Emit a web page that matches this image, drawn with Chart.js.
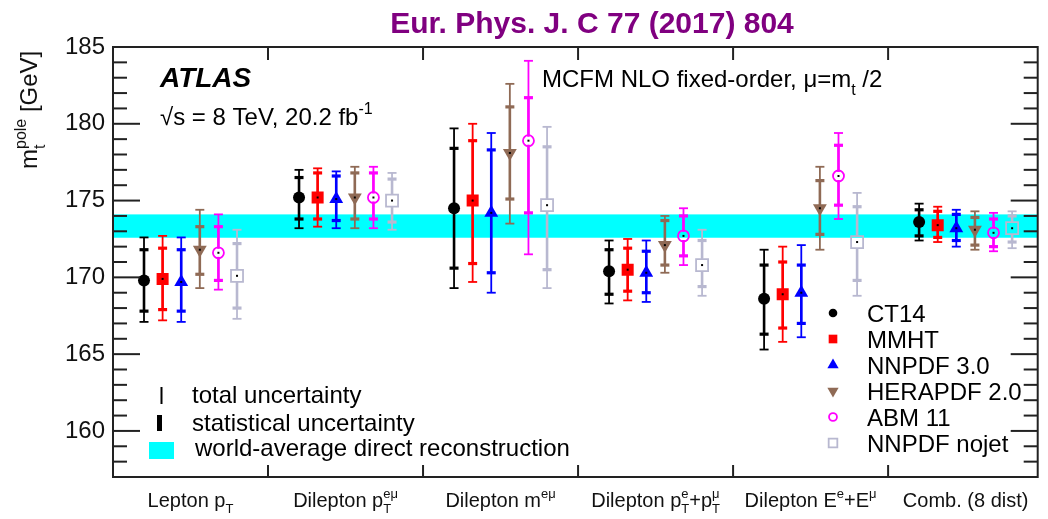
<!DOCTYPE html>
<html lang="en">
<head>
<meta charset="UTF-8">
<title>Top-quark pole mass per distribution and PDF set</title>
<script src="https://cdn.jsdelivr.net/npm/chart.js@4.4.1/dist/chart.umd.min.js"></script>
<style>
    body { margin: 0; background: #ffffff; }
    #wrap { width: 1048px; height: 519px; }
</style>
</head>
<body>
<div id="wrap"><canvas id="mtChart" width="1048" height="519"></canvas></div>
<script>
// --- DATA (GeV) ---
const categories = ['Lepton p_{T}', 'Dilepton p_{T}^{eμ}', 'Dilepton m^{eμ}',
                    'Dilepton p_{T}^{e}+p_{T}^{μ}', 'Dilepton E^{e}+E^{μ}', 'Comb. (8 dist)'];
const pdfNames = ['CT14', 'MMHT', 'NNPDF 3.0', 'HERAPDF 2.0', 'ABM 11', 'NNPDF nojet'];
const yTicks = [160, 165, 170, 175, 180, 185];

// central value, [low, high] of total uncertainty, [low, high] of statistical uncertainty
const ct14      = [169.8, 175.2, 174.5, 170.4, 168.6, 173.6];
const ct14Tot   = [[167.1, 172.6], [173.2, 177.0], [169.3, 179.7], [168.3, 172.4], [165.3, 171.8], [172.4, 174.8]];
const ct14Stat  = [[167.8, 171.8], [173.8, 176.5], [170.6, 178.4], [168.9, 171.8], [166.3, 170.8], [172.7, 174.4]];

const mmht      = [169.9, 175.2, 175.0, 170.5, 168.9, 173.4];
const mmhtTot   = [[167.2, 172.7], [173.3, 177.1], [169.7, 180.0], [168.5, 172.5], [165.8, 172.0], [172.3, 174.6]];
const mmhtStat  = [[167.9, 171.9], [173.8, 176.8], [170.9, 178.9], [169.1, 171.9], [166.7, 171.0], [172.6, 174.3]];

const nnpdf     = [169.7, 175.1, 174.2, 170.3, 169.0, 173.2];
const nnpdfTot  = [[167.1, 172.6], [173.2, 176.9], [169.0, 179.4], [168.4, 172.4], [166.1, 172.1], [172.0, 174.4]];
const nnpdfStat = [[167.8, 171.8], [173.7, 176.6], [170.3, 178.3], [169.0, 171.7], [167.0, 170.8], [172.4, 174.1]];

const hera      = [171.8, 175.2, 178.1, 172.1, 174.5, 173.1];
const heraTot   = [[169.3, 174.4], [173.2, 177.2], [173.5, 182.6], [170.3, 174.0], [171.8, 177.2], [171.8, 174.3]];
const heraStat  = [[170.2, 173.3], [173.8, 176.8], [175.1, 181.1], [170.8, 173.7], [172.8, 176.3], [172.1, 173.9]];

const abm       = [171.6, 175.2, 178.9, 172.7, 176.6, 172.9];
const abmTot    = [[169.2, 174.1], [173.2, 177.2], [171.5, 184.1], [170.8, 174.5], [173.8, 179.4], [171.7, 174.2]];
const abmStat   = [[169.8, 173.3], [173.8, 176.8], [174.2, 181.7], [171.4, 174.0], [174.7, 178.6], [172.0, 173.8]];

const nojet     = [170.1, 175.0, 174.7, 170.8, 172.3, 173.2];
const nojetTot  = [[167.3, 173.1], [173.1, 176.8], [169.3, 179.8], [168.8, 173.1], [168.8, 175.5], [171.9, 174.3]];
const nojetStat = [[168.0, 172.2], [173.6, 176.4], [170.5, 178.5], [169.4, 172.4], [169.8, 174.6], [172.3, 174.0]];

const worldAverage = [172.58, 174.10];   // direct reconstruction band

// --- STYLE ---
const FONT = '"Liberation Sans", Arial, Helvetica, sans-serif';
const series = [
    { name: pdfNames[0], mass: ct14,  tot: ct14Tot,  stat: ct14Stat,  color: '#000000', style: 'circle',   radius: 6,   filled: true },
    { name: pdfNames[1], mass: mmht,  tot: mmhtTot,  stat: mmhtStat,  color: '#ff0000', style: 'rect',     radius: 8.5, filled: true },
    { name: pdfNames[2], mass: nnpdf, tot: nnpdfTot, stat: nnpdfStat, color: '#0000ff', style: 'triangle', radius: 8,   filled: true },
    { name: pdfNames[3], mass: hera,  tot: heraTot,  stat: heraStat,  color: '#8f6a55', style: 'triangle', radius: 8,   filled: true, rotation: 180 },
    { name: pdfNames[4], mass: abm,   tot: abmTot,   stat: abmStat,   color: '#ff00ff', style: 'circle',   radius: 5.5, filled: false },
    { name: pdfNames[5], mass: nojet, tot: nojetTot, stat: nojetStat, color: '#b8b8d0', style: 'rect',     radius: 8.5, filled: false }
];
const xOffset = k => 0.2 + 0.12 * k;   // position of each PDF set inside its bin

// small parser for "p_{T}^{eμ}" style labels
function parseRich(str) {
    const segs = [];
    let buf = '', i = 0;
    while (i < str.length) {
        const c = str[i];
        if (c === '_' || c === '^') {
            let grp = '';
            i++;
            if (str[i] === '{') { i++; while (str[i] !== '}') grp += str[i++]; i++; }
            else grp = str[i++];
            if (buf) { segs.push({ t: buf }); buf = ''; }
            segs[segs.length - 1][c === '_' ? 'sub' : 'sup'] = grp;
        } else { buf += c; i++; }
    }
    if (buf) segs.push({ t: buf });
    return segs;
}

function drawRich(ctx, str, x, y, size, align, weight) {
    const segs = parseRich(str);
    const small = Math.round(size * 0.65);
    const big = (weight || '') + ' ' + size + 'px ' + FONT;
    const sm = small + 'px ' + FONT;
    let w = 0;
    segs.forEach(s => {
        ctx.font = big; w += ctx.measureText(s.t).width;
        ctx.font = sm; w += Math.max(ctx.measureText(s.sub || '').width, ctx.measureText(s.sup || '').width);
    });
    let cx = align === 'center' ? x - w / 2 : x;
    ctx.textAlign = 'left';
    ctx.textBaseline = 'alphabetic';
    segs.forEach(s => {
        ctx.font = big; ctx.fillText(s.t, cx, y); cx += ctx.measureText(s.t).width;
        ctx.font = sm;
        if (s.sub) ctx.fillText(s.sub, cx, y + size * 0.32);
        if (s.sup) ctx.fillText(s.sup, cx, y - size * 0.45);
        cx += Math.max(ctx.measureText(s.sub || '').width, ctx.measureText(s.sup || '').width);
    });
}

function drawMarker(ctx, s, x, y, r) {
    ctx.save();
    ctx.translate(x, y);
    ctx.rotate((s.rotation || 0) * Math.PI / 180);
    ctx.beginPath();
    if (s.style === 'circle') ctx.arc(0, 0, r, 0, 2 * Math.PI);
    else if (s.style === 'rect') { const h = r / Math.SQRT2; ctx.rect(-h, -h, 2 * h, 2 * h); }
    else {
        for (let k = 0; k < 3; k++) {
            const a = k * 2 * Math.PI / 3;
            ctx.lineTo(Math.sin(a) * r, -Math.cos(a) * r);
        }
        ctx.closePath();
    }
    if (s.filled) { ctx.fillStyle = s.color; ctx.fill(); }
    else { ctx.strokeStyle = s.color; ctx.lineWidth = 1.8; ctx.stroke(); }
    ctx.restore();
}

function vline(ctx, x, y1, y2) { ctx.beginPath(); ctx.moveTo(x, y1); ctx.lineTo(x, y2); ctx.stroke(); }
function hline(ctx, x1, x2, y) { ctx.beginPath(); ctx.moveTo(x1, y); ctx.lineTo(x2, y); ctx.stroke(); }

const decorPlugin = {
    id: 'atlasDecor',
    beforeDatasetsDraw(chart) {
        const { ctx, chartArea: a, scales: { x, y } } = chart;
        ctx.save();
        // world-average band
        ctx.fillStyle = '#00ffff';
        const yt = y.getPixelForValue(worldAverage[1]), yb = y.getPixelForValue(worldAverage[0]);
        ctx.fillRect(a.left, yt, a.right - a.left, yb - yt);
        // error bars; hollow markers keep a gap, as ROOT draws them
        series.forEach((s, k) => {
            ctx.strokeStyle = s.color;
            const gap = s.filled ? 0 : s.radius * 0.75;
            s.mass.forEach((m, i) => {
                const px = x.getPixelForValue(i + xOffset(k));
                const pc = y.getPixelForValue(m);
                const [tLo, tHi] = s.tot[i].map(v => y.getPixelForValue(v));
                const [sLo, sHi] = s.stat[i].map(v => y.getPixelForValue(v));
                ctx.lineWidth = 1.8;
                vline(ctx, px, tHi, pc - gap);
                vline(ctx, px, pc + gap, tLo);
                hline(ctx, px - 4.5, px + 4.5, tHi);
                hline(ctx, px - 4.5, px + 4.5, tLo);
                ctx.lineWidth = 2.6;
                vline(ctx, px, sHi, pc - gap);
                vline(ctx, px, pc + gap, sLo);
                ctx.lineWidth = 3.2;
                hline(ctx, px - 4.5, px + 4.5, sHi);
                hline(ctx, px - 4.5, px + 4.5, sLo);
            });
        });
        ctx.restore();
    },
    afterDatasetsDraw(chart) {
        const { ctx, scales: { x, y } } = chart;
        ctx.save();
        ctx.fillStyle = '#000000';
        series.forEach((s, k) => s.mass.forEach((m, i) => {
            ctx.fillRect(x.getPixelForValue(i + xOffset(k)) - 1, y.getPixelForValue(m) - 1, 2, 2);
        }));
        ctx.restore();
    },
    afterDraw(chart) {
        const { ctx, chartArea: a, scales: { x, y } } = chart;
        ctx.save();
        // frame and ticks
        ctx.strokeStyle = '#222222';
        ctx.lineWidth = 2;
        ctx.strokeRect(a.left, a.top, a.right - a.left, a.bottom - a.top);
        for (let v = Math.ceil(y.min); v <= y.max; v++) {
            const py = y.getPixelForValue(v);
            const len = v % 5 === 0 ? 27 : 14;
            hline(ctx, a.left, a.left + len, py);
            hline(ctx, a.right - len, a.right, py);
        }
        for (let i = 1; i < categories.length; i++) {
            const px = x.getPixelForValue(i);
            vline(ctx, px, a.top, a.top + 13);
            vline(ctx, px, a.bottom, a.bottom - 12);
        }

        ctx.fillStyle = '#111111';
        // category labels
        categories.forEach((c, i) => {
            drawRich(ctx, c, x.getPixelForValue(i + 0.5), 507, 20, 'center');
        });

        // y-axis title
        ctx.save();
        ctx.translate(37, 169);
        ctx.rotate(-Math.PI / 2);
        drawRich(ctx, 'm_{t}^{pole} [GeV]', 0, 0, 24, 'left');
        ctx.restore();

        // title
        ctx.fillStyle = '#800080';
        ctx.font = 'bold 30px ' + FONT;
        ctx.textAlign = 'center';
        ctx.textBaseline = 'alphabetic';
        ctx.fillText('Eur. Phys. J. C 77 (2017) 804', 592, 33);

        // ATLAS labels
        ctx.fillStyle = '#000000';
        ctx.font = 'italic bold 28px ' + FONT;
        ctx.textAlign = 'left';
        ctx.fillText('ATLAS', 160, 87);
        drawRich(ctx, '√s = 8 TeV, 20.2 fb^{-1}', 160, 125, 24, 'left');
        drawRich(ctx, 'MCFM NLO fixed-order, μ=m_{t} /2', 542, 87, 24, 'left');

        // PDF legend
        series.forEach((s, k) => {
            const base = 322 + 26 * k;
            drawMarker(ctx, s, 833, base - 9, s.style === 'triangle' ? 6.5 : s.radius * 0.72);
            ctx.fillStyle = '#000000';
            ctx.font = '24px ' + FONT;
            ctx.textAlign = 'left';
            ctx.fillText(s.name, 867, base);
        });

        // uncertainty legend
        ctx.strokeStyle = '#000000';
        ctx.lineWidth = 2;
        vline(ctx, 161.5, 387, 404);
        ctx.fillStyle = '#000000';
        ctx.fillRect(157, 415, 5, 16);
        ctx.fillStyle = '#00ffff';
        ctx.fillRect(149, 442, 25, 17);
        ctx.fillStyle = '#000000';
        ctx.font = '24px ' + FONT;
        ctx.fillText('total uncertainty', 192, 403);
        ctx.fillText('statistical uncertainty', 192, 431);
        ctx.fillText('world-average direct reconstruction', 195, 456);
        ctx.restore();
    }
};

const datasets = series.map((s, k) => ({
    label: s.name,
    data: s.mass.map((m, i) => ({ x: i + xOffset(k), y: m })),
    showLine: false,
    pointStyle: s.style,
    pointRadius: s.radius,
    pointRotation: s.rotation || 0,
    backgroundColor: s.filled ? s.color : 'rgba(0,0,0,0)',
    borderColor: s.color,
    borderWidth: s.filled ? 0 : 1.8
}));

new Chart(document.getElementById('mtChart'), {
    type: 'scatter',
    data: { datasets },
    options: {
        responsive: false,
        animation: false,
        layout: { padding: { top: 47, bottom: 42, right: 1, left: 0 } },
        plugins: {
            legend: { display: false },
            tooltip: { enabled: false },
            title: { display: false }
        },
        scales: {
            x: { type: 'linear', min: 0, max: 5.965, display: false },
            y: {
                min: 157,
                max: 185,
                grid: { display: false, drawTicks: false },
                border: { display: false },
                ticks: {
                    stepSize: 5,
                    autoSkip: false,
                    padding: 8,
                    color: '#111111',
                    font: { size: 24, family: FONT },
                    callback: v => yTicks.includes(v) ? v : ''
                },
                afterFit: s => { s.width = 113; }
            }
        }
    },
    plugins: [decorPlugin]
});
</script>
</body>
</html>
